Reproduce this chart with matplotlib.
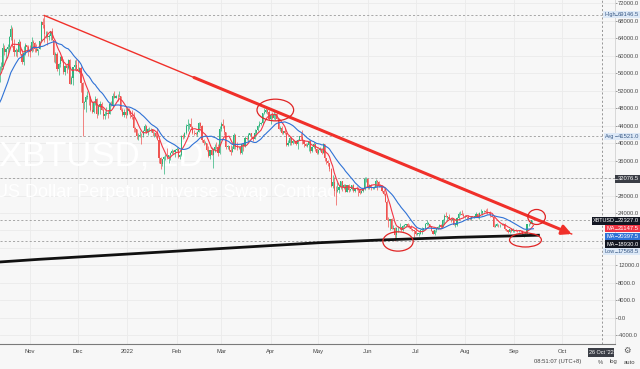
import numpy as np
import pandas as pd
import matplotlib
matplotlib.use("Agg")
import matplotlib.pyplot as plt
import matplotlib.dates as mdates
from matplotlib.patches import Ellipse, Rectangle
from matplotlib.lines import Line2D

# XBTUSD daily candles from 13 Oct 2021, prices in thousand USD (open = previous close)
first_day = "2021-10-13"
closes = [
    57.4, 57.4, 61.7, 60.9, 61.5, 62.0, 64.3, 66.0, 62.2, 60.7, 61.3, 60.9, 63.1, 60.4, 58.5, 60.6, 62.3, 61.9, 61.3,
    61.0, 63.2, 62.9, 61.4, 61.0, 61.5, 63.3, 67.6, 66.9, 64.9, 64.9, 64.2, 64.5, 65.5, 63.6, 60.1, 60.4, 56.9, 58.1, 59.7, 58.7, 56.3, 57.5, 57.2, 58.9, 53.6, 54.8, 57.3, 57.8, 57.0,
    56.5, 57.2, 53.7, 49.2, 49.4, 50.6, 50.6, 50.5, 47.6, 47.1, 49.4, 50.1, 46.7, 48.4, 48.9, 47.6, 46.2, 46.7, 46.9, 46.7, 49.0, 48.6, 50.8, 50.4, 50.8, 50.7, 50.7, 47.5, 46.5, 47.1, 46.3,
    47.7, 47.3, 46.4, 45.9, 43.5, 43.1, 41.5, 41.7, 41.9, 41.8, 42.7, 43.9, 42.6, 43.1, 43.1, 43.2, 42.2, 42.4, 41.7, 40.7, 36.5, 35.1, 36.3, 36.7, 36.9, 36.8, 37.2, 37.7, 38.2, 37.9, 38.5,
    38.7, 36.9, 37.3, 41.6, 41.4, 42.4, 43.8, 44.1, 44.4, 43.6, 42.4, 42.2, 42.1, 42.6, 44.6, 43.9, 40.6, 40.0, 40.1, 38.4, 37.0, 38.3, 37.3, 38.3, 39.2, 39.1, 37.7, 43.2,
    44.4, 44.0, 42.5, 39.1, 39.4, 38.4, 37.9, 38.7, 41.9, 39.4, 38.8, 38.8, 37.8, 39.7, 39.3, 41.1, 40.9, 41.8, 42.2, 41.3, 41.0, 42.4, 42.9, 44.0, 44.3, 44.5, 46.8, 47.1, 47.5, 47.1, 45.5,
    46.3, 45.8, 46.4, 46.6, 45.5, 43.2, 43.4, 42.3, 42.8, 42.2, 39.5, 40.1, 41.1, 39.9, 40.5, 40.4, 39.7, 40.8, 41.5, 41.4, 40.5, 39.7, 39.4, 39.5, 40.4, 38.1, 39.2, 39.7, 38.6, 37.7,
    38.5, 38.5, 37.7, 39.7, 36.6, 36.0, 35.5, 34.1, 30.1, 31.0, 29.1, 29.0, 29.3, 29.9, 31.3, 29.9, 30.4, 28.7, 30.3, 29.2, 29.4, 30.3, 29.1, 29.7, 29.5, 29.2, 28.6, 29.0, 29.4, 31.7, 31.8,
    29.8, 30.5, 29.7, 29.9, 29.9, 31.4, 31.1, 30.2, 30.1, 29.1, 28.4, 26.6, 22.5, 22.2, 22.6, 20.4, 20.5, 19.0, 20.6, 20.6, 20.7, 20.0, 21.1, 21.2, 21.5, 21.0, 20.7, 20.3, 20.1, 19.8,
    19.3, 19.3, 19.3, 20.2, 20.2, 20.5, 21.6, 21.6, 21.6, 20.9, 19.9, 19.3, 20.2, 20.6, 20.8, 21.2, 20.8, 22.4, 23.4, 23.2, 23.2, 22.7, 22.5, 22.6, 21.3, 21.3, 22.9, 23.8, 23.8, 23.6, 23.3,
    23.3, 23.0, 22.8, 22.6, 23.3, 23.2, 23.2, 23.8, 23.2, 23.9, 23.9, 24.4, 24.4, 24.3, 24.1, 23.9, 23.3, 23.2, 20.8, 21.1, 21.5, 21.4, 21.5, 21.4, 21.6, 20.3, 20.0, 19.6, 20.3, 19.8, 20.0,
    20.1, 19.9, 19.8, 20.0, 19.8, 18.8, 19.3, 19.3, 21.4, 21.6, 21.8, 22.4, 22.327,
]
highs = [
    57.6, 58.5, 62.9, 62.3, 61.7, 62.6, 64.5, 67.0, 66.6, 63.7, 61.7, 61.5, 63.7, 63.3, 61.4, 62.1, 62.9, 62.3, 62.4,
    62.4, 64.3, 63.5, 63.1, 62.6, 61.6, 63.3, 67.8, 68.5, 69.1465, 65.6, 65.5, 65.0, 65.6, 66.3, 63.6, 60.8, 60.9, 58.3, 59.8, 60.0, 59.3, 57.8, 57.8, 59.3, 59.2, 55.3, 57.4, 58.9, 59.2,
    59.0, 57.3, 57.6, 53.9, 49.7, 50.9, 51.9, 51.0, 50.8, 49.6, 49.5, 50.8, 50.3, 48.6, 49.5, 49.4, 48.0, 47.3, 48.3, 47.5, 49.3, 49.5, 51.4, 51.8, 51.0, 51.3, 52.0, 50.7, 48.1, 47.8, 48.5,
    47.9, 47.9, 47.5, 47.5, 47.0, 43.7, 43.1, 42.3, 42.7, 42.2, 43.0, 44.3, 44.2, 43.4, 43.7, 43.5, 43.2, 42.6, 42.6, 43.4, 41.0, 36.8, 36.4, 37.0, 37.5, 38.9, 37.2, 38.0, 38.6, 38.4, 38.7,
    39.2, 38.8, 37.4, 41.8, 42.0, 42.6, 44.4, 45.4, 44.6, 45.8, 43.9, 43.0, 42.6, 42.7, 44.7, 44.8, 44.2, 40.9, 40.4, 40.1, 39.4, 38.4, 39.2, 38.9, 39.7, 40.3, 39.8, 43.8,
    44.9, 45.4, 44.1, 42.5, 39.6, 39.4, 39.5, 39.3, 42.4, 42.0, 40.2, 39.3, 39.3, 39.9, 39.8, 41.6, 41.4, 42.2, 42.3, 42.2, 41.6, 43.3, 43.0, 44.2, 45.0, 44.8, 46.9, 48.1, 48.2, 47.7, 47.6,
    46.7, 47.2, 47.4, 46.9, 47.1, 45.5, 43.9, 43.9, 42.8, 43.4, 42.4, 40.7, 41.5, 41.5, 40.9, 40.7, 40.6, 41.0, 41.7, 42.2, 42.9, 40.8, 39.9, 39.9, 40.6, 40.7, 39.4, 40.3, 39.9, 38.8,
    38.6, 39.1, 38.6, 40.0, 39.8, 36.6, 36.1, 35.5, 34.3, 32.6, 32.2, 30.1, 31.0, 30.3, 31.4, 31.3, 30.7, 30.6, 30.5, 30.7, 29.6, 30.4, 30.6, 29.8, 30.2, 29.9, 29.4, 29.2, 29.5, 32.2, 32.3,
    31.9, 30.6, 30.6, 29.9, 30.1, 31.7, 31.5, 31.3, 30.6, 30.3, 29.4, 28.5, 26.9, 23.0, 22.7, 22.9, 21.3, 20.8, 20.8, 21.0, 21.7, 20.9, 21.2, 21.5, 21.6, 21.8, 21.5, 21.2, 20.4, 20.1,
    20.8, 19.4, 19.6, 20.3, 20.7, 20.6, 21.8, 22.4, 21.9, 21.6, 20.9, 20.0, 20.2, 20.8, 21.1, 21.5, 21.6, 22.7, 23.7, 24.2, 23.4, 23.8, 22.9, 22.9, 22.6, 21.4, 23.0, 24.2, 24.4, 24.6, 24.1,
    23.5, 23.4, 23.6, 23.2, 23.4, 23.4, 23.4, 24.2, 23.9, 24.2, 24.9, 24.5, 24.8, 25.0, 25.2, 24.2, 24.4, 23.6, 23.3, 21.4, 21.7, 21.6, 21.6, 21.8, 21.8, 21.8, 20.4, 20.1, 20.4, 20.5, 20.5,
    20.2, 20.4, 20.0, 20.1, 20.1, 20.2, 19.4, 19.5, 21.5, 21.8, 21.9, 22.5, 22.45,
]
lows = [
    54.0, 56.8, 56.9, 60.2, 58.9, 60.1, 61.3, 63.5, 62.0, 60.0, 59.8, 59.6, 60.7, 60.1, 58.1, 57.8, 60.2, 60.8, 59.9,
    59.6, 60.7, 61.0, 60.7, 60.8, 60.2, 61.4, 63.1, 66.3, 63.0, 64.1, 62.3, 63.6, 63.6, 63.5, 58.6, 58.4, 56.5, 55.6, 57.4, 58.5, 55.7, 55.5, 55.9, 57.0, 53.5, 53.6, 53.3, 56.7, 56.5,
    56.4, 55.9, 51.7, 41.5, 47.8, 47.1, 50.0, 48.6, 47.3, 46.9, 46.8, 48.7, 45.8, 46.4, 46.6, 47.6, 45.5, 45.6, 46.5, 45.7, 46.6, 48.4, 48.2, 50.4, 50.2, 49.6, 50.6, 47.4, 46.2, 45.9, 45.8,
    46.3, 46.7, 45.7, 45.6, 42.6, 42.5, 40.9, 40.6, 41.3, 39.8, 41.3, 42.5, 42.4, 41.9, 42.7, 42.6, 41.6, 41.3, 41.2, 40.6, 35.5, 34.0, 34.7, 33.0, 36.2, 36.4, 35.5, 36.2, 37.4, 37.4, 36.7,
    38.2, 36.6, 36.3, 37.1, 41.0, 41.2, 42.0, 42.8, 43.2, 43.3, 42.1, 41.8, 41.9, 41.6, 42.5, 43.4, 40.2, 39.5, 39.7, 38.1, 36.9, 36.4, 37.2, 34.3, 38.0, 38.6, 37.1, 37.5,
    42.8, 43.4, 41.9, 38.6, 38.6, 38.1, 37.2, 37.9, 38.6, 38.6, 38.3, 38.7, 37.6, 37.6, 38.2, 39.0, 40.6, 40.3, 41.6, 41.2, 40.5, 40.9, 41.9, 42.7, 43.7, 44.1, 44.4, 46.7, 46.9, 46.6, 45.3,
    44.3, 45.6, 45.6, 45.2, 45.4, 43.1, 42.8, 42.1, 42.1, 42.1, 39.3, 39.3, 39.6, 39.6, 39.8, 40.0, 39.6, 38.6, 40.6, 40.9, 39.8, 39.2, 39.3, 39.0, 38.2, 37.8, 37.9, 38.9, 38.2, 37.6,
    37.4, 38.1, 37.5, 37.7, 35.9, 35.3, 34.8, 33.7, 30.0, 29.8, 27.8, 25.8, 28.8, 28.6, 29.5, 29.1, 29.5, 28.7, 28.7, 28.8, 29.0, 29.2, 28.9, 28.8, 29.3, 28.0, 28.3, 28.5, 28.8, 29.3, 31.2,
    29.4, 29.6, 29.3, 29.5, 29.5, 29.9, 29.3, 29.9, 30.0, 28.9, 28.2, 26.5, 22.3, 20.8, 20.2, 20.3, 20.3, 17.5685, 18.0, 19.7, 20.4, 19.8, 19.9, 20.9, 20.9, 20.9, 20.5, 20.2, 19.9, 18.6,
    19.0, 19.0, 18.8, 19.1, 19.3, 19.8, 20.3, 21.2, 21.3, 20.7, 19.8, 19.2, 18.9, 19.7, 20.4, 20.5, 20.7, 20.7, 21.6, 23.0, 22.4, 22.6, 21.9, 22.3, 21.2, 20.8, 21.1, 22.7, 23.5, 23.5, 23.2,
    22.9, 22.7, 22.7, 22.5, 22.5, 23.1, 22.9, 23.1, 22.9, 22.7, 23.8, 23.6, 24.3, 24.1, 23.8, 23.7, 23.2, 23.1, 20.7, 20.8, 21.0, 20.9, 20.9, 21.2, 21.3, 20.2, 19.8, 19.5, 19.5, 19.6, 19.7,
    19.7, 19.8, 19.7, 19.6, 19.7, 18.7, 18.5, 19.0, 19.2, 21.1, 21.4, 21.6, 22.3,
]
# closes of 23 Sep - 12 Oct 2021, only used to start the moving averages
warmup_closes = [44.9, 42.8, 42.7, 43.2, 42.2, 41.0, 41.5, 43.8, 48.1, 47.7,
                 48.2, 49.1, 51.5, 55.3, 53.8, 53.9, 54.9, 54.7, 57.5, 56.0]

# long moving average (black line)
long_ma_dates = ["2021-10-10", "2021-11-07", "2022-05-01", "2022-06-09", "2022-07-28", "2022-09-17"]
long_ma_vals = [12730, 13420, 17200, 17830, 18450, 18930]

# hand drawn trendline and circles
trend_dates = ["2021-11-10", "2022-10-07"]
trend_vals = [69146.5, 19200]
arrow_from = "2022-02-12"
circle_dates = ["2022-04-04", "2022-06-20", "2022-09-08", "2022-09-15"]
circle_vals = [47540, 17490, 17830, 23090]
circle_days = [23, 19, 20, 11]
circle_span = [4960, 4410, 3200, 3430]

price_ticks = np.arange(-4000, 72001, 4000)
hidden_ticks = [32000, 20000, 16000]   # covered by the price tags on the axis
month_labels = ["Nov", "Dec", "2022", "Feb", "Mar", "Apr", "May", "Jun", "Jul", "Aug", "Sep", "Oct"]
month_starts = pd.date_range("2021-11-01", periods=12, freq="MS")

high_val, avg_val, low_val, last_val = 69146.5, 41521.0, 17568.5, 22327.0
ma_fast_val, ma_slow_val, ma_long_val = 21147.5, 20397.5, 18930.0
cross_val, cross_date = 32076.5, "2022-10-26"

BG = "#f7f7f7"
GRID = "#ebebeb"
UP, DOWN = "#2fb47c", "#ef5350"
MA_RED, MA_BLUE = "#f23645", "#2f72d6"
TREND = "#f0302a"
DASH = (0, (2.5, 2.5))

plt.rcParams["font.family"] = ["Liberation Sans", "DejaVu Sans"]

W, H = 640, 369
fig = plt.figure(figsize=(W / 100, H / 100), dpi=100)
fig.patch.set_facecolor(BG)
ax = fig.add_axes([0, 25 / H, 615 / W, 344 / H])
ax.set_facecolor(BG)

dates = pd.date_range(first_day, periods=len(closes), freq="D")
x = mdates.date2num(dates)
c = np.array(closes) * 1000
o = np.r_[warmup_closes[-1], closes[:-1]] * 1000
h = np.array(highs) * 1000
l = np.array(lows) * 1000
up = c >= o

for mask, col in ((up, UP), (~up, DOWN)):
    ax.vlines(x[mask], l[mask], h[mask], color=col, lw=0.5, zorder=3)
    ax.bar(x[mask], np.maximum(np.abs(c - o)[mask], 80), bottom=np.minimum(o, c)[mask],
           width=0.72, color=col, lw=0, zorder=3)

# moving averages
allc = pd.Series(np.r_[warmup_closes, closes] * 1000)
fast = allc.rolling(7).mean().to_numpy()[len(warmup_closes):]
slow = allc.rolling(20).mean().to_numpy()[len(warmup_closes):]
ax.plot(x, fast, color=MA_RED, lw=0.8, zorder=4)
ax.plot(x, slow, color=MA_BLUE, lw=0.8, zorder=4)
ax.plot(mdates.date2num(pd.to_datetime(long_ma_dates)), long_ma_vals, color="#111111", lw=2.0,
        solid_capstyle="butt", zorder=5)

# trendline with arrow
td = mdates.date2num(pd.to_datetime(trend_dates))
ax.plot(td, trend_vals, color=TREND, lw=1.0, zorder=6)
a0 = mdates.date2num(pd.Timestamp(arrow_from))
ax.annotate("", xy=(td[1], trend_vals[1]), xytext=(a0, np.interp(a0, td, trend_vals)),
            arrowprops=dict(arrowstyle="-|>,head_length=0.55,head_width=0.28", color=TREND,
                            lw=2.2, shrinkA=0, shrinkB=0), zorder=6)

for d, v, w, s in zip(circle_dates, circle_vals, circle_days, circle_span):
    ax.add_patch(Ellipse((mdates.date2num(pd.Timestamp(d)), v), w, s, fill=False,
                         ec="#e02424", lw=0.9, zorder=7))

# price lines and crosshair
for v in (high_val, avg_val, low_val, last_val, cross_val):
    ax.axhline(v, color="#9a9a9a", lw=0.6, ls=DASH, zorder=2)
ax.axvline(mdates.date2num(pd.Timestamp(cross_date)), color="#888888", lw=0.6, ls=DASH, zorder=2)

# watermark
ax.text(-1 / 615, 1 - 165 / 344, "XBTUSD, 1D", transform=ax.transAxes, fontsize=25,
        color="white", va="baseline", ha="left", zorder=1)
ax.text(-5 / 615, 1 - 197 / 344, "US Dollar Perpetual Inverse Swap Contract", transform=ax.transAxes,
        fontsize=13, color="white", va="baseline", ha="left", zorder=1)

ax.set_xlim(mdates.date2num(pd.Timestamp("2021-11-01")) - 18.8,
            mdates.date2num(pd.Timestamp("2021-11-01")) + 367.2)
ax.set_ylim(-5943, 72686)
ax.set_xticks(month_starts)
ax.set_xticklabels(month_labels)
ax.set_yticks(price_ticks)
ax.set_yticklabels(["" if v in hidden_ticks else f"{v:.1f}" for v in price_ticks])
ax.yaxis.tick_right()
ax.tick_params(axis="y", length=1.5, width=0.5, pad=0.8, labelsize=4.2, color="#777777",
               labelcolor="#4a4a4a")
ax.tick_params(axis="x", length=0, pad=3.5, labelsize=4.2, labelcolor="#444444")
ax.grid(True, color=GRID, lw=0.6)
ax.set_axisbelow(True)
for side in ("left", "top"):
    ax.spines[side].set_visible(False)
ax.spines["right"].set_color("#d2d2d2")
ax.spines["right"].set_linewidth(0.6)
ax.spines["bottom"].set_color("#7a7a7a")
ax.spines["bottom"].set_linewidth(0.8)


def tag(y_px, x0_px, name, value, bg, fg):
    y = 1 - y_px / H
    fig.add_artist(Rectangle((x0_px / W, y - 3.7 / H), (W - x0_px) / W, 7.4 / H,
                             transform=fig.transFigure, fc=bg, ec="none", zorder=10))
    if name:
        fig.text((x0_px + 1.2) / W, y, name, fontsize=4, color=fg, va="center", ha="left", zorder=11)
    fig.add_artist(Line2D([615 / W, 617 / W], [y, y], color=fg, lw=0.5, zorder=11))
    fig.text(618 / W, y, value, fontsize=4.2, color=fg, va="center", ha="left", zorder=11)


LIGHT = "#dde9f7"
tag(14.7, 603, "High", f"{high_val:.1f}", LIGHT, "#3b5b86")
tag(136.3, 604, "Avg", f"{avg_val:.1f}", LIGHT, "#3b5b86")
tag(179, 615, "", f"{cross_val:.1f}", "#3a3d45", "white")
tag(221, 592, "XBTUSD", f"{last_val:.1f}", "#131722", "white")
tag(228.7, 605, "MA", f"{ma_fast_val:.1f}", MA_RED, "white")
tag(236.3, 605, "MA", f"{ma_slow_val:.1f}", MA_BLUE, "white")
tag(244, 605, "MA", f"{ma_long_val:.1f}", "#131722", "white")
tag(251.5, 603, "Low", f"{low_val:.1f}", LIGHT, "#3b5b86")

# crosshair date box and footer
fig.add_artist(Rectangle((588 / W, 1 - 356.5 / H), 26 / W, 9 / H, transform=fig.transFigure,
                         fc="#3a3d45", ec="none", zorder=10))
fig.text(601 / W, 1 - 352 / H, "26 Oct '22", fontsize=4, color="white", ha="center", va="center", zorder=11)
fig.text(627 / W, 1 - 351 / H, "\u2699", fontsize=6, color="#555555", ha="center", va="center")
fig.text(558 / W, 1 - 362 / H, "08:51:07 (UTC+8)", fontsize=4.2, color="#444444", ha="center", va="center")
fig.text(600 / W, 1 - 362 / H, "%", fontsize=4.2, color="#444444", ha="center", va="center")
fig.text(613 / W, 1 - 362 / H, "log", fontsize=4.2, color="#444444", ha="center", va="center")
fig.text(630 / W, 1 - 362 / H, "auto", fontsize=4.2, color="#444444", ha="center", va="center")

fig.savefig("out.png", dpi=100, facecolor=BG)
